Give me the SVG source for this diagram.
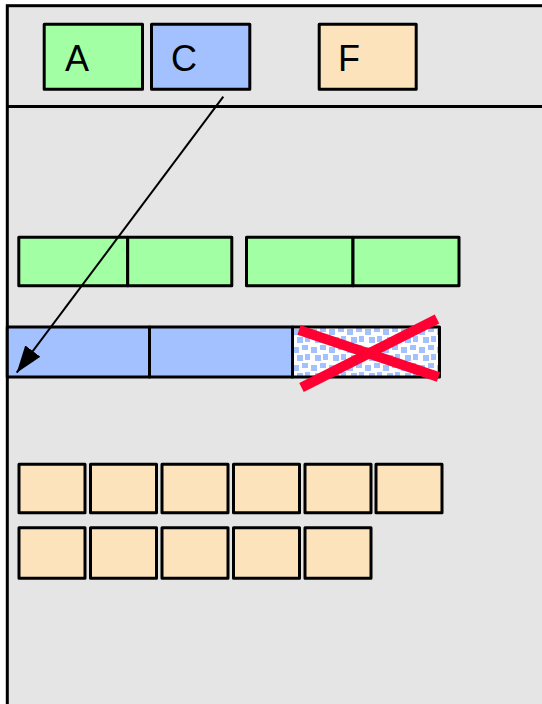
<svg xmlns="http://www.w3.org/2000/svg" width="542" height="704" viewBox="0 0 542 704">
<defs>
<style>
.box{stroke:#000;stroke-width:3;stroke-linejoin:round}
.g{fill:#a3ffa3}.b{fill:#a3c1ff}.o{fill:#fde3bb}
.lbl{font-family:"Liberation Sans",Arial,sans-serif;font-size:36px;fill:#000}
.x{stroke:#ff0033;stroke-width:10;fill:none}
</style>
<pattern id="dots" width="18" height="18" patternUnits="userSpaceOnUse" x="292" y="327">
<rect width="18" height="18" fill="#fff"/>
<rect x="1" y="2" width="6" height="6" fill="#a3c1ff"/>
<rect x="10" y="0" width="6" height="5" fill="#a3c1ff"/>
<rect x="5" y="10" width="6" height="6" fill="#a3c1ff"/>
<rect x="13" y="9" width="5" height="6" fill="#a3c1ff"/>
</pattern>
<marker id="arr" viewBox="0 0 27 19" refX="27" refY="9.5" markerWidth="27" markerHeight="19" markerUnits="userSpaceOnUse" orient="auto">
<path d="M0,0 L27,9.5 L0,19 z" fill="#000"/>
</marker>
</defs>
<rect width="542" height="704" fill="#fff"/>
<g id="frame">
<rect x="7.3" y="5.7" width="560" height="720" fill="#e5e5e5" stroke="#000" stroke-width="3"/>
<line x1="7" y1="106.5" x2="542" y2="106.5" stroke="#000" stroke-width="3"/>
</g>
<g id="nodeA"><rect class="box g" x="44.2" y="24.2" width="98.3" height="65"/><text class="lbl" x="65" y="70.5">A</text></g>
<g id="nodeC"><rect class="box b" x="151.5" y="24.2" width="98.3" height="65"/><text class="lbl" x="171" y="70.5">C</text></g>
<g id="nodeF"><rect class="box o" x="319.2" y="24.2" width="97" height="65"/><text class="lbl" x="338" y="70.5">F</text></g>
<g id="green">
<rect class="box g" x="18.8" y="237.2" width="108.9" height="48.6"/>
<rect class="box g" x="127.7" y="237.2" width="104.1" height="48.6"/>
<rect class="box g" x="246.5" y="237.2" width="106.5" height="48.6"/>
<rect class="box g" x="353" y="237.2" width="106" height="48.6"/>
</g>
<g id="blue">
<rect class="box b" x="7.3" y="327" width="142.2" height="50"/>
<rect class="box b" x="149.5" y="327" width="143" height="50"/>
<rect class="box" fill="url(#dots)" x="292.5" y="327" width="147" height="50"/>
</g>
<g id="cross">
<line class="x" x1="299" y1="330" x2="438.5" y2="377"/>
<line class="x" x1="301.5" y1="387.5" x2="437" y2="319"/>
</g>
<g id="orange">
<rect class="box o" x="19" y="464.2" width="66" height="48.6"/>
<rect class="box o" x="90.5" y="464.2" width="66" height="48.6"/>
<rect class="box o" x="162" y="464.2" width="66" height="48.6"/>
<rect class="box o" x="233.5" y="464.2" width="66" height="48.6"/>
<rect class="box o" x="305" y="464.2" width="66" height="48.6"/>
<rect class="box o" x="376" y="464.2" width="66" height="48.6"/>
<rect class="box o" x="19" y="527.8" width="66" height="50.4"/>
<rect class="box o" x="90.5" y="527.8" width="66" height="50.4"/>
<rect class="box o" x="162" y="527.8" width="66" height="50.4"/>
<rect class="box o" x="233.5" y="527.8" width="66" height="50.4"/>
<rect class="box o" x="305" y="527.8" width="66" height="50.4"/>
</g>
<g id="connectors">
<line x1="223.3" y1="96.7" x2="16.7" y2="372.7" stroke="#000" stroke-width="2" marker-end="url(#arr)"/>
</g>
</svg>
